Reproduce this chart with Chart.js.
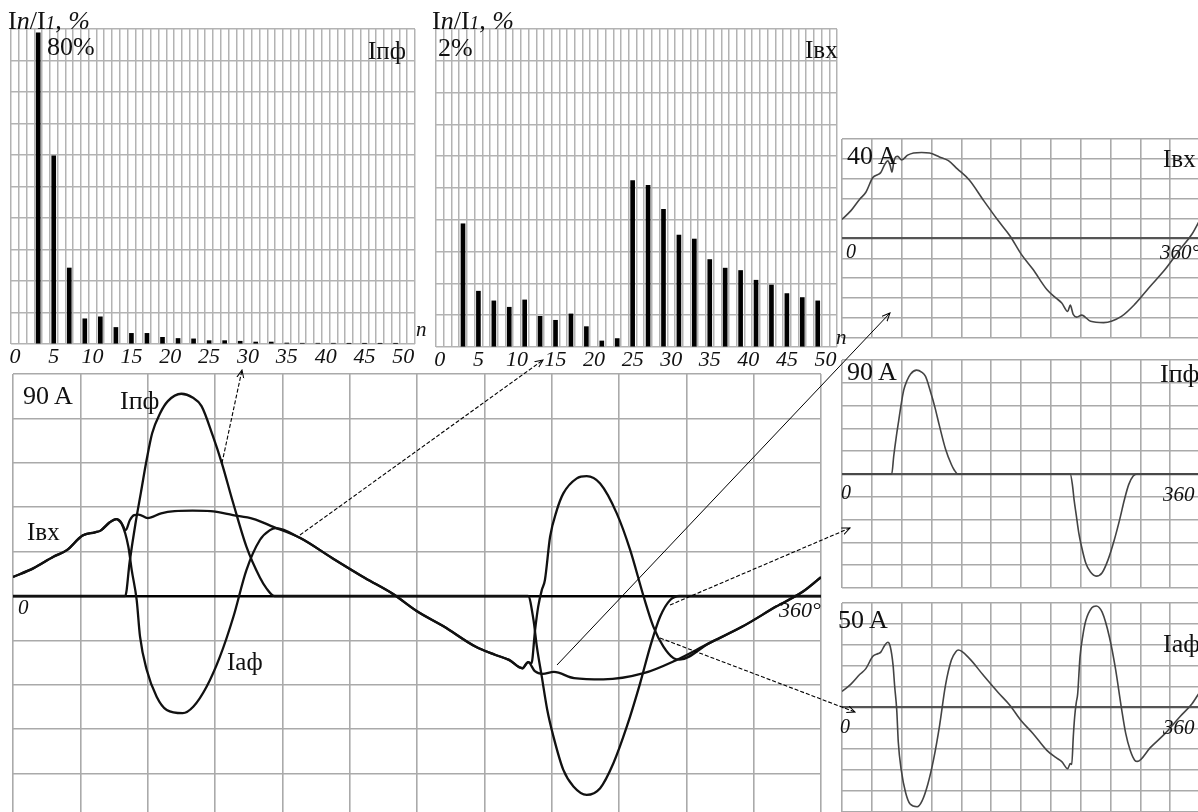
<!DOCTYPE html>
<html>
<head>
<meta charset="utf-8">
<script src="https://cdn.jsdelivr.net/npm/chart.js@4.4.1/dist/chart.umd.min.js"></script>
<style>
  body { margin: 0; width: 1198px; height: 812px; overflow: hidden; background: #fff; position: relative;
         font-family: "Liberation Serif", "Times New Roman", serif; color: #111; }
  .box { position: absolute; }
  .t { position: absolute; white-space: nowrap; line-height: 1; }
  .t i { font-style: italic; }
  .t small { font-size: 0.75em; font-style: italic; }
  svg { position: absolute; left: 0; top: 0; pointer-events: none; }
</style>
</head>
<body>
<div class="box"><canvas id="harmPf"></canvas></div>
<div class="box"><canvas id="harmVx"></canvas></div>
<div class="box"><canvas id="waveAll"></canvas></div>
<div class="box"><canvas id="waveVx"></canvas></div>
<div class="box"><canvas id="wavePf"></canvas></div>
<div class="box"><canvas id="waveAf"></canvas></div>

<svg width="1198" height="812">
  <defs>
    <marker id="ah" markerWidth="9" markerHeight="9" refX="8" refY="4" orient="auto" markerUnits="userSpaceOnUse">
      <path d="M0,0.5 L8,4 L0,7.5" fill="none" stroke="#000" stroke-width="1"/>
    </marker>
  </defs>
  <line x1="222" y1="463" x2="242" y2="370" stroke="#000" stroke-width="1.1" stroke-dasharray="4 2" marker-end="url(#ah)"/>
  <line x1="300" y1="535" x2="543" y2="360" stroke="#000" stroke-width="1.1" stroke-dasharray="4 2" marker-end="url(#ah)"/>
  <line x1="557" y1="665" x2="890" y2="313" stroke="#000" stroke-width="1" marker-end="url(#ah)"/>
  <line x1="670" y1="605" x2="850" y2="528" stroke="#000" stroke-width="1.1" stroke-dasharray="4 2" marker-end="url(#ah)"/>
  <line x1="660" y1="638" x2="855" y2="712" stroke="#000" stroke-width="1.1" stroke-dasharray="4 2" marker-end="url(#ah)"/>
</svg>

<!-- harmonic spectra -->
<div class="t" style="left:8px;top:8px;font-size:26px">I<i>n</i>/I<small>1</small><i>, %</i></div>
<div class="t" style="left:47px;top:34px;font-size:26px">80%</div>
<div class="t" style="left:368px;top:38px;font-size:25px">Iпф</div>
<div class="t" style="left:416px;top:319px;font-size:21px"><i>n</i></div>
<div class="t" style="left:432px;top:8px;font-size:26px">I<i>n</i>/I<small>1</small><i>, %</i></div>
<div class="t" style="left:438px;top:35px;font-size:26px">2%</div>
<div class="t" style="left:805px;top:37px;font-size:25px">Iвх</div>
<div class="t" style="left:836px;top:327px;font-size:21px"><i>n</i></div>

<!-- big waveform -->
<div class="t" style="left:23px;top:383px;font-size:26px">90 A</div>
<div class="t" style="left:120px;top:388px;font-size:26px">Iпф</div>
<div class="t" style="left:27px;top:519px;font-size:25px">Iвх</div>
<div class="t" style="left:227px;top:649px;font-size:25px">Iаф</div>
<div class="t" style="left:18px;top:597px;font-size:21px"><i>0</i></div>
<div class="t" style="left:779px;top:599px;font-size:22px"><i>360°</i></div>

<!-- small waveforms -->
<div class="t" style="left:847px;top:143px;font-size:26px">40 A</div>
<div class="t" style="left:1163px;top:146px;font-size:25px">Iвх</div>
<div class="t" style="left:846px;top:241px;font-size:20px"><i>0</i></div>
<div class="t" style="left:1160px;top:242px;font-size:21px"><i>360°</i></div>
<div class="t" style="left:847px;top:359px;font-size:26px">90 A</div>
<div class="t" style="left:1160px;top:361px;font-size:26px">Iпф</div>
<div class="t" style="left:841px;top:482px;font-size:20px"><i>0</i></div>
<div class="t" style="left:1163px;top:484px;font-size:21px"><i>360</i></div>
<div class="t" style="left:838px;top:607px;font-size:26px">50 A</div>
<div class="t" style="left:1163px;top:631px;font-size:26px">Iаф</div>
<div class="t" style="left:840px;top:716px;font-size:20px"><i>0</i></div>
<div class="t" style="left:1163px;top:717px;font-size:21px"><i>360</i></div>

<script>
// odd harmonic orders and their share of the fundamental, %
const harmonics = [3, 5, 7, 9, 11, 13, 15, 17, 19, 21, 23, 25, 27, 29, 31, 33, 35, 37, 39, 41, 43, 45, 47, 49];
const ipfHarm = [79.0, 47.8, 19.3, 6.4, 6.9, 4.2, 2.7, 2.7, 1.7, 1.4, 1.3, 0.85, 0.85, 0.7, 0.5, 0.5, 0.25, 0.2, 0.2, 0.2, 0.15, 0.15, 0.15, 0.15];
const ivxHarm = [0.775, 0.351, 0.29, 0.25, 0.296, 0.193, 0.168, 0.208, 0.128, 0.038, 0.053, 1.046, 1.017, 0.866, 0.704, 0.679, 0.55, 0.496, 0.481, 0.42, 0.39, 0.336, 0.311, 0.29];
const nLabels = [0, 5, 10, 15, 20, 25, 30, 35, 40, 45, 50];

// one period of the currents: angle in degrees, value in A
const ivxDeg = [0, 9, 18, 24, 31, 36.5, 39, 43, 46, 48.4, 50.2, 52.1, 54, 56, 60, 66, 72, 80, 88, 98, 107, 116, 128, 142, 157, 169, 180, 192, 206, 215, 221, 227, 229.5, 232.5, 236, 241, 250, 263, 281, 295, 310, 325, 340, 352, 360];
const ivxAmp = [7.7, 11.2, 15.9, 18.6, 24.5, 25.8, 26.5, 29.8, 31.2, 29.4, 26.7, 30.8, 32.8, 33.0, 31.6, 33.5, 34.4, 34.6, 34.4, 32.8, 31.3, 28, 23.5, 15.5, 7.2, 1.0, -6.2, -12.4, -20.5, -23.9, -25.9, -29.3, -26.8, -30.5, -31.6, -30.8, -33.3, -33.8, -31.3, -26.2, -19.2, -12.4, -4.3, 1.8, 7.6];

const ipfDeg = [0, 50, 52, 54.5, 57, 59.5, 62, 65.5, 69, 75, 80, 84, 89, 93, 98, 104, 110, 113, 116.5, 229.5, 231.9, 233.4, 235.6, 238, 240.8, 245.2, 249.7, 255.6, 261.6, 267.5, 273.5, 279.4, 283.9, 288.3, 292.8, 297, 360];
const ipfAmp = [0, 0, 14, 29, 42, 55, 66, 74, 79, 82, 80.5, 77, 65, 54, 38, 20, 7.5, 3, 0, 0, -9.7, -20.5, -32.7, -46, -57, -70.5, -77.2, -80.6, -77.9, -67.8, -52.9, -35.4, -20.5, -8.4, -1.6, 0, 0];

const iafDeg = [0, 9, 18, 24, 31, 36.5, 39, 43, 46, 48.4, 51.4, 52.9, 55.1, 56.6, 59.6, 64, 68.5, 75.6, 80.4, 86.3, 92.2, 98.2, 104, 110, 114.5, 117, 128, 142, 157, 169, 180, 192, 206, 215, 221, 227, 229.5, 231, 232.6, 234, 235.6, 237, 239.3, 242.3, 245.2, 251.2, 255.6, 261.6, 269, 275, 281, 285.3, 289.8, 294.3, 297, 310, 325, 340, 352, 360];
const iafAmp = [7.7, 11.2, 15.9, 18.6, 24.5, 25.8, 26.5, 29.8, 31.2, 29.4, 20, 10.5, -1.6, -16.5, -30, -40.8, -46.2, -47.5, -44.8, -36.7, -24.6, -8.4, 10.5, 22.7, 26.7, 27.5, 23.5, 15.5, 7.2, 1.0, -6.2, -12.4, -20.5, -23.9, -25.9, -29.3, -26.8, -27.3, -13.8, -4.3, 2.4, 6.5, 24, 34.8, 41.6, 47.7, 48.6, 45.6, 33.5, 18.6, -0.3, -12.4, -20.5, -25.2, -25.8, -19.2, -12.4, -4.3, 1.8, 7.6];

Chart.defaults.font.family = '"Liberation Serif", "Times New Roman", serif';
Chart.defaults.color = '#111';
Chart.defaults.animation = false;

const gridGray = '#b3b3b3';

function setBox(canvas, area, pad, below) {
    canvas.width = area.right - area.left + 2 * pad;
    canvas.height = area.bottom - area.top + pad + below;
    canvas.parentNode.style.left = (area.left - pad) + 'px';
    canvas.parentNode.style.top = (area.top - pad) + 'px';
}

function makeHarmChart(id, area, values, yMax) {
    const canvas = document.getElementById(id);
    const pad = 4;
    setBox(canvas, area, pad, 32);
    new Chart(canvas, {
        type: 'bar',
        data: {
            datasets: [{
                data: harmonics.map((n, i) => ({ x: n, y: values[i] })),
                backgroundColor: '#000',
                barThickness: 4
            }]
        },
        options: {
            responsive: false,
            layout: { padding: { left: pad, right: pad, top: pad, bottom: 2 } },
            plugins: { legend: { display: false }, tooltip: { enabled: false } },
            scales: {
                x: {
                    type: 'linear', min: 0, max: 51,
                    afterBuildTicks: s => { s.ticks = Array.from({ length: 52 }, (_, v) => ({ value: v })); },
                    afterFit: s => { s.height = 30; },
                    grid: { color: gridGray, lineWidth: 1.5, drawTicks: false },
                    border: { display: false },
                    ticks: {
                        autoSkip: false, maxRotation: 0, padding: 0,
                        font: { size: 22, style: 'italic' },
                        callback: v => nLabels.includes(v) ? String(v) : ''
                    }
                },
                y: {
                    min: 0, max: yMax,
                    afterBuildTicks: s => { s.ticks = Array.from({ length: 11 }, (_, i) => ({ value: i * yMax / 10 })); },
                    afterFit: s => { s.width = 0; },
                    grid: { color: gridGray, lineWidth: 1.5, drawTicks: false },
                    border: { display: false },
                    ticks: { display: false }
                }
            }
        }
    });
}

function makeWaveChart(id, area, yMax, series, lineColor, lineWidth, zeroColor, zeroWidth) {
    const canvas = document.getElementById(id);
    const pad = 3;
    setBox(canvas, area, pad, pad);
    new Chart(canvas, {
        type: 'scatter',
        data: {
            datasets: series.map(s => ({
                data: s.deg.map((d, i) => ({ x: d, y: s.amp[i] })),
                showLine: true,
                borderColor: lineColor,
                borderWidth: lineWidth,
                pointRadius: 0,
                cubicInterpolationMode: 'monotone'
            }))
        },
        options: {
            responsive: false,
            layout: { padding: pad },
            plugins: { legend: { display: false }, tooltip: { enabled: false } },
            scales: {
                x: {
                    type: 'linear', min: 0, max: 360,
                    ticks: { display: false, stepSize: 30 },
                    afterFit: s => { s.height = 0; },
                    grid: { color: '#aaaaaa', lineWidth: 1.6, drawTicks: false },
                    border: { display: false }
                },
                y: {
                    min: -yMax, max: yMax,
                    ticks: { display: false, stepSize: yMax / 5 },
                    afterFit: s => { s.width = 0; },
                    grid: {
                        color: c => c.tick.value === 0 ? zeroColor : '#aaaaaa',
                        lineWidth: c => c.tick.value === 0 ? zeroWidth : 1.6,
                        drawTicks: false
                    },
                    border: { display: false }
                }
            }
        }
    });
}

const ivx = { deg: ivxDeg, amp: ivxAmp };
const ipf = { deg: ipfDeg, amp: ipfAmp };
const iaf = { deg: iafDeg, amp: iafAmp };

makeHarmChart('harmPf', { left: 11, right: 415, top: 29, bottom: 344 }, ipfHarm, 80);
makeHarmChart('harmVx', { left: 436, right: 837, top: 29, bottom: 347 }, ivxHarm, 2);

makeWaveChart('waveAll', { left: 13, right: 821, top: 374, bottom: 818 }, 90, [ivx, ipf, iaf], '#111', 2.3, '#000', 2.6);
makeWaveChart('waveVx', { left: 842, right: 1200, top: 139, bottom: 338 }, 40, [ivx], '#444', 1.6, '#555', 2.2);
makeWaveChart('wavePf', { left: 842, right: 1200, top: 360, bottom: 588 }, 90, [ipf], '#444', 1.6, '#555', 2.2);
makeWaveChart('waveAf', { left: 842, right: 1200, top: 603, bottom: 812 }, 50, [iaf], '#444', 1.6, '#555', 2.2);
</script>
</body>
</html>
